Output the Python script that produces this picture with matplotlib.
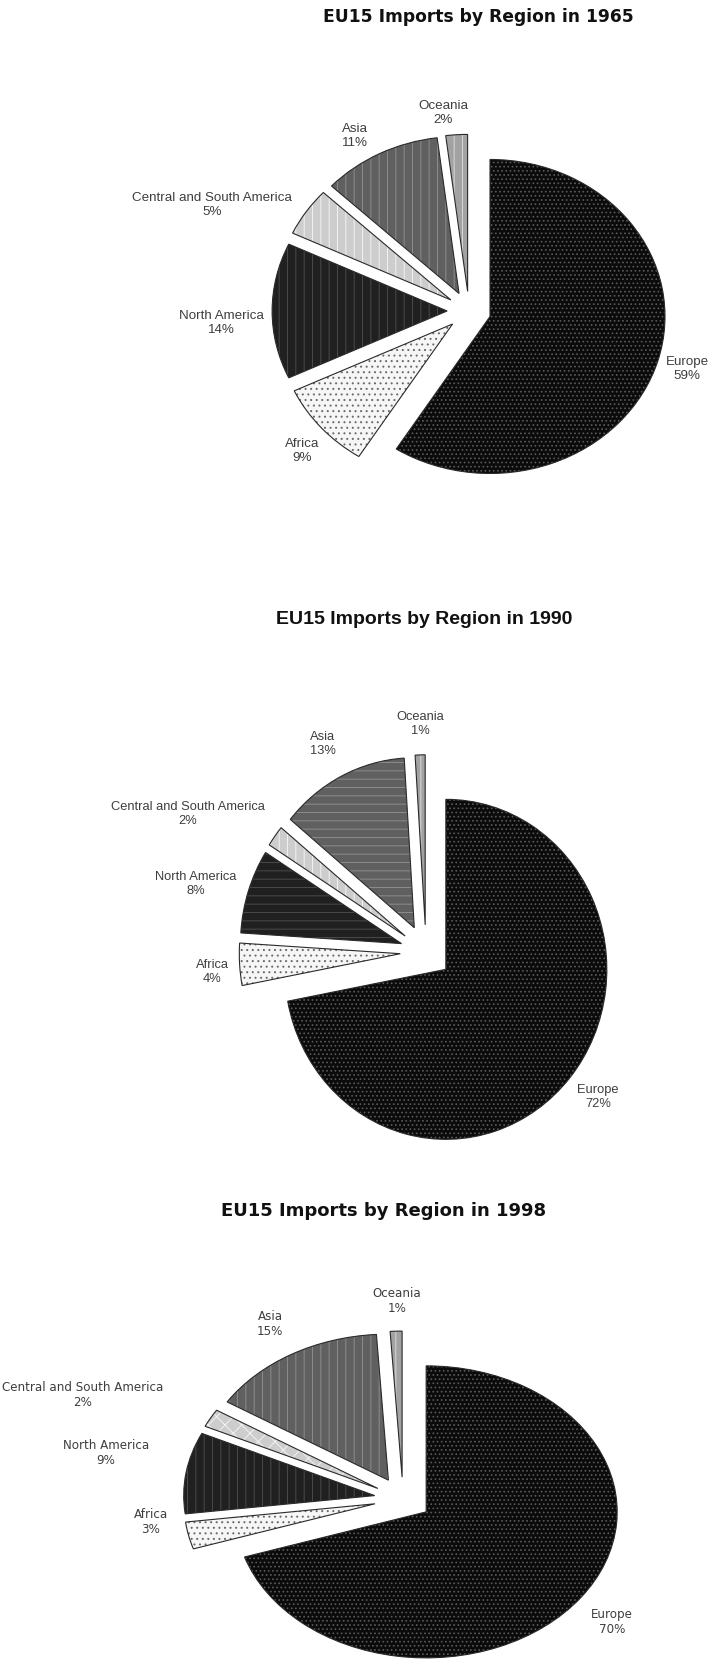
import matplotlib
matplotlib.use("Agg")
import matplotlib.pyplot as plt

# data
regions = ['Europe', 'Africa', 'North America', 'Central and South America', 'Asia', 'Oceania']
years = ['1965', '1990', '1998']
share_1965 = [59, 9, 14, 5, 11, 2]
share_1990 = [72, 4, 8, 2, 13, 1]
share_1998 = [70, 3, 9, 2, 15, 1]
shares = [share_1965, share_1990, share_1998]

W, H = 711, 1661
plt.rcParams['hatch.linewidth'] = 0.7

# slice styling (face, hatch colour)
faces = ['#0b0b0b', '#f6f6f6', '#202020', '#cdcdcd', '#606060', '#a2a2a2']
hatch_cols = ['#5a5a5a', '#6a6a6a', '#4a4a4a', '#f2f2f2', '#8c8c8c', '#d8d8d8']
hatches = [
    ['....', '...', '||', '||', '||', '||'],
    ['....', '...', '--', '||', '--', '||'],
    ['....', '...', '||', 'xx', '||', '||'],
]

# layout per chart: pie centre (px from top-left), x/y radius, explode
centres = [(469, 311), (426, 952), (403, 1499)]
radii = [(175, 157), (161, 170), (191, 146)]
explodes = [0.125, 0.16, 0.15]
title_xy = [(478, 17), (424, 620), (384, 1211)]
title_fonts = [('DejaVu Sans', 12.3), ('Liberation Sans', 14), ('DejaVu Sans', 13)]
label_fonts = [('Liberation Sans', 9.6), ('Liberation Sans', 9.3), ('DejaVu Sans', 8.6)]
label_xy = [
    [(687, 369), (302, 451), (221, 323), (212, 205), (355, 136), (443, 113)],
    [(598, 1097), (212, 972), (196, 884), (188, 814), (323, 744), (420, 724)],
    [(612, 1622), (151, 1522), (106, 1453), (83, 1395), (270, 1324), (397, 1301)],
]

fig = plt.figure(figsize=(W / 100, H / 100), dpi=100)


def fxy(x, y):
    return x / W, 1 - y / H


for k in range(3):
    cx, cy = centres[k]
    rx, ry = radii[k]
    ax = fig.add_axes([0, 0, 1, 1])
    ax.patch.set_alpha(0)
    expl = [explodes[k]] * len(regions)

    wedges, _ = ax.pie(shares[k], explode=expl, startangle=90, counterclock=False,
                       colors=faces, wedgeprops=dict(linewidth=0))
    for w, hc, h in zip(wedges, hatch_cols, hatches[k]):
        w.set_edgecolor(hc)
        w.set_hatch(h)
        w.set_linewidth(0)
    # outlines on top
    ax.pie(shares[k], explode=expl, startangle=90, counterclock=False,
           wedgeprops=dict(fill=False, edgecolor='#2a2a2a', linewidth=0.8))

    ax.set_aspect('auto')
    ax.set_xlim(-cx / rx, (W - cx) / rx)
    ax.set_ylim((cy - H) / ry, cy / ry)
    ax.axis('off')

    fam, fs = title_fonts[k]
    tx, ty = title_xy[k]
    fig.text(*fxy(tx, ty), f'EU15 Imports by Region in {years[k]}', ha='center', va='center',
             fontsize=fs, fontweight='bold', family=fam, color='#111111')

    fam, fs = label_fonts[k]
    for name, val, (lx, ly) in zip(regions, shares[k], label_xy[k]):
        fig.text(*fxy(lx, ly), f'{name}\n{val}%', ha='center', va='center', fontsize=fs,
                 family=fam, color='#3e3e3e', linespacing=1.25)

fig.savefig('out.png', dpi=100, facecolor='white')
